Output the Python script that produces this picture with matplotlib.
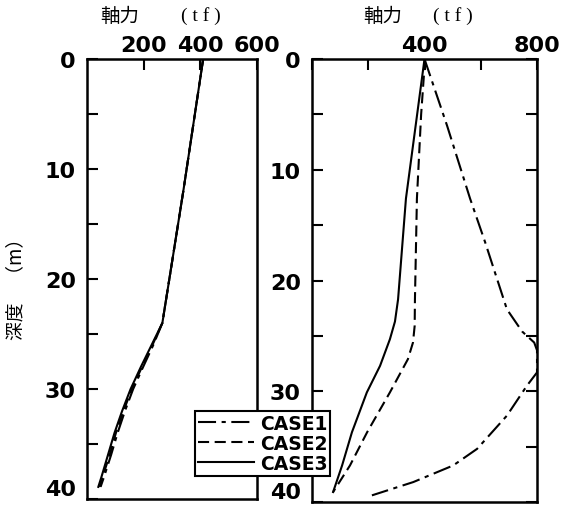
import numpy as np
import matplotlib.pyplot as plt

plt.rcParams['font.family'] = ['DejaVu Sans', 'Noto Sans CJK JP']
plt.rcParams['lines.scale_dashes'] = False

cases = ['CASE1', 'CASE2', 'CASE3']

# left panel: axial force (tf) vs depth (m)
left_depth = [0, 12, 24, 26, 28, 30, 32, 34, 36, 38, 38.9]
left_case1 = [410, 340, 266, 234, 198, 163, 134, 108, 85, 60, 48]
left_case2 = [410, 340, 266, 231, 194, 158, 129, 102, 80, 55, 44]
left_case3 = [410, 340, 266, 228, 190, 154, 124, 97, 74, 51, 40]

# right panel
r1_depth = [0, 6, 12.6, 16.5, 20.1, 22.6, 24.6, 25.6, 26.3, 28.3, 29.5, 32.2, 35.2, 36.7, 38.2, 39.4]
r1_force = [400, 480, 562, 615, 661, 693, 747, 790, 800, 800, 764, 693, 587, 502, 360, 213]
r2_depth = [0, 5, 12.6, 21.7, 24.1, 25.6, 27.1, 30.1, 33.7, 36.7, 39.1]
r2_force = [402, 388, 373, 366, 365, 359, 341, 277, 196, 135, 75]
r3_depth = [0, 12.6, 21.7, 23.7, 25.3, 27.7, 30.1, 33.7, 36.7, 39.1]
r3_force = [400, 334, 306, 295, 277, 242, 195, 142, 107, 75]

depth_ticks = list(range(0, 41, 5))
depth_labels = [str(d) if d % 10 == 0 else '' for d in depth_ticks]

styles = {
    'CASE1': dict(dashes=(13, 4, 3, 4)),
    'CASE2': dict(dashes=(8, 4)),
    'CASE3': dict(linestyle='-'),
}

fig = plt.figure(figsize=(5.73, 5.10), dpi=100)
ax1 = fig.add_axes([0.1518, 0.0196, 0.2967, 0.8627])
ax2 = fig.add_axes([0.5445, 0.0137, 0.3927, 0.8686])

left_data = [left_case1, left_case2, left_case3]
for name, vals in zip(cases, left_data):
    ax1.plot(vals, left_depth, color='black', lw=1.5, label=name, **styles[name])

right_data = [(r1_force, r1_depth), (r2_force, r2_depth), (r3_force, r3_depth)]
for name, (f, d) in zip(cases, right_data):
    ax2.plot(f, d, color='black', lw=1.5, label=name, **styles[name])

tick_font = dict(fontsize=16, fontweight='bold')

ax1.set_xlim(0, 600)
ax1.set_xticks([200, 400, 600])
ax1.set_xticklabels(['200', '400', '600'], **tick_font)
ax2.set_xlim(0, 800)
ax2.set_xticks([0, 200, 400, 600, 800])
ax2.set_xticklabels(['', '', '400', '', '800'], **tick_font)

for ax in (ax1, ax2):
    ax.set_ylim(40, 0)
    ax.set_yticks(depth_ticks)
    ax.set_yticklabels(depth_labels, **tick_font)
    ax.get_yticklabels()[-1].set_va('bottom')
    ax.tick_params(axis='x', top=True, bottom=False, labeltop=True, labelbottom=False,
                   direction='in', length=8, width=1.5, pad=3)
    ax.tick_params(axis='y', direction='in', length=8, width=1.5, pad=8)
    for s in ax.spines.values():
        s.set_linewidth(1.8)
ax1.tick_params(axis='y', left=True, right=False)
ax2.tick_params(axis='y', left=True, right=True)

# axis titles
for x_kanji, x_unit in [(120, 201), (383, 453)]:
    fig.text(x_kanji / 573, 1 - 16 / 510, '軸力', family='Noto Sans CJK JP',
             fontsize=14, ha='center', va='center')
    fig.text(x_unit / 573, 1 - 16 / 510, '( t f )', family='Liberation Serif',
             fontsize=14, ha='center', va='center')
fig.text(0.027, 1 - 284 / 510, '深度　（m）', family='Noto Sans CJK JP', fontsize=13.5,
         rotation=90, ha='center', va='center')

handles, labels = ax1.get_legend_handles_labels()
leg = fig.legend(handles, labels, loc='upper left', bbox_to_anchor=(195 / 573, 1 - 412 / 510),
                 frameon=True, fancybox=False, edgecolor='black', framealpha=1,
                 prop=dict(weight='bold', size=13.5), handlelength=3.0,
                 handletextpad=0.3, borderpad=0.15, labelspacing=0.05, borderaxespad=0)
leg.get_frame().set_linewidth(1.5)

fig.savefig('out.png', dpi=100)
